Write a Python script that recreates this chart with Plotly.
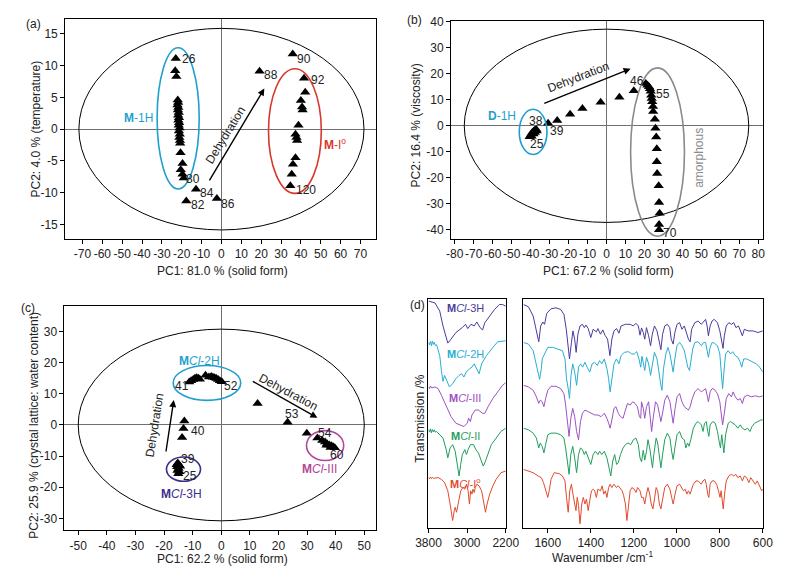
import plotly.graph_objects as go

FONT = "Liberation Sans, Arial, sans-serif"
CYAN = "#1f9fce"; RED = "#d8382c"; GRAY = "#8a8a8a"; NAVY = "#3b2f8c"; MAGENTA = "#b3479a"
C3H = "#4b3b9b"; C2H = "#27aed0"; CIII = "#9b52c3"; CII = "#1f9e5b"; CI = "#e04a2e"

# ---------------- panel (a) ----------------
a_x = [-23.0, -23.3, -22.7, -22.0, -21.8, -22.1, -21.7, -21.9, -21.5, -21.8, -21.4, -21.7, -21.3, -21.5, -21.1,
       -21.4, -21.0, -21.2, -20.9, -20.8, -20.6, -19.6, -20.5, -19.6, -19.0, -12.8, -17.7, -2.3, 19.2,
       35.9, 41.6, 42.2, 40.0, 40.6, 40.9, 38.8, 37.3, 37.8, 38.1, 37.3, 36.0, 35.4, 34.7]
a_y = [11.1, 9.2, 8.3, 4.6, 4.2, 3.8, 3.4, 3.0, 2.6, 2.2, 1.8, 1.4, 1.0, 0.6, 0.2,
       -0.3, -0.8, -1.3, -1.8, -2.2, -3.7, -5.4, -6.4, -7.1, -7.7, -9.45, -11.3, -10.9, 9.1,
       11.8, 8.0, 5.8, 4.5, 3.5, 3.0, 0.6, -0.8, -1.3, -1.8, -4.5, -5.5, -7.1, -8.9]
a_labels = [("26", -16.1, 11.06), ("80", -14.1, -7.8), ("84", -7.1, -10.1), ("82", -11.7, -11.9),
            ("86", 3.4, -11.7), ("88", 25.2, 8.5), ("90", 41.6, 11.06), ("92", 48.4, 7.8), ("120", 42.7, -9.55)]
a_ellipses = [(0, 0, 71.8, 15.85, "black", 1), (-21.8, 1.7, 10.6, 11.1, CYAN, 1.6), (37.0, -0.3, 13.3, 9.8, RED, 1.6)]
a_xticks = list(range(-70, 71, 10))
a_yticks = list(range(-15, 16, 5))

# ---------------- panel (b) ----------------
b_x = [-40.5, -40.0, -39.5, -39.0, -38.5, -38.0, -37.5, -37.0, -38.5, -39.5, -37.8, -36.8,
       -30.8, -26.0, -19.2, -12.7, -3.1, 6.8, 14.4,
       20.7, 21.6, 22.4, 22.9, 23.3, 23.6, 23.8, 24.1, 24.5, 24.6, 25.5, 25.8, 26.2, 26.5, 26.5, 26.7,
       27.5, 27.7, 28.0, 27.7, 27.7]
b_y = [-4.2, -3.6, -3.0, -2.5, -2.2, -1.8, -1.6, -1.4, -3.2, -4.0, -2.6, -2.0,
       1.0, 2.0, 4.4, 6.7, 9.1, 11.0, 13.5,
       16.3, 15.6, 15.0, 14.3, 13.3, 11.8, 10.5, 9.3, 7.4, 5.5, 2.5, -0.9, -4.3, -8.8, -13.8, -18.4,
       -23.1, -29.5, -33.7, -38.0, -40.0]
b_labels = [("46", 16.1, 17.1), ("55", 29.6, 12.4), ("70", 33.5, -41.3), ("38", -37.0, 1.9),
            ("25", -36.5, -7.0), ("39", -26.0, -1.9)]
b_ellipses = [(0, 0, 75.0, 37.2, "black", 1), (-38.7, -2.35, 7.3, 8.7, CYAN, 1.6), (26.9, -10.1, 14.2, 32.4, GRAY, 1.6)]
b_xticks = list(range(-80, 81, 10))
b_yticks = list(range(-40, 41, 10))

# ---------------- panel (c) ----------------
c_x = [-15.2, -14.8, -15.4, -14.9, -15.3, -14.6, -15.0, -14.4, -15.6,
       -12.9, -13.2, -13.7,
       -11.2, -10.5, -9.8, -9.2, -8.6, -8.0, -7.5, -5.5, -4.3, -3.5, -2.9, -2.3, -1.7, -1.1, -0.5, 0.2,
       12.7, 23.2, 29.9,
       33.6, 35.3, 36.3, 37.0, 37.8, 38.5, 39.1, 39.7, 36.8, 38.2]
c_y = [-12.2, -12.8, -13.4, -14.0, -14.6, -15.0, -15.7, -13.3, -12.8,
       1.3, -1.1, -4.0,
       13.8, 14.2, 14.6, 15.0, 15.2, 15.0, 14.7, 16.0, 15.4, 15.6, 15.3, 15.2, 14.9, 14.6, 14.2, 13.9,
       6.9, 0.85, -2.65,
       -4.2, -5.0, -5.5, -6.0, -6.4, -6.7, -7.0, -7.3, -6.5, -7.2]
c_labels = [("39", -11.5, -10.8), ("25", -10.8, -16.4), ("40", -8.1, -1.9), ("41", -13.8, 12.4),
            ("52", 3.4, 12.4), ("53", 24.9, 3.4), ("54", 36.2, -2.7), ("60", 40.6, -9.5)]
c_ellipses = [(0, 0, 50.0, 30.8, "black", 1), (-5.0, 13.5, 11.8, 5.6, CYAN, 1.6),
              (-13.2, -14.2, 5.95, 3.9, NAVY, 1.6), (36.3, -6.6, 6.5, 4.8, MAGENTA, 1.6)]
c_xticks = list(range(-50, 51, 10))
c_yticks = list(range(-30, 31, 10))

# ---------------- panel (d) spectra: (wavenumber, transmission a.u.) ----------------
oh_3H = [(3800, 687), (3787, 687), (3667, 682), (3567, 657), (3500, 612), (3433, 572), (3400, 560), (3333, 572),
         (3233, 592), (3100, 607), (3033, 617), (2987, 604), (2920, 617), (2853, 612), (2800, 624), (2733, 607),
         (2680, 600), (2633, 622), (2533, 642), (2433, 662), (2333, 677), (2267, 677), (2200, 672)]
fp_3H = [(1713, 677), (1690, 670), (1668, 642), (1653, 602), (1642, 564), (1633, 612), (1623, 624), (1615, 617),
         (1605, 650), (1585, 664), (1562, 667), (1540, 662), (1525, 647), (1514, 602), (1507, 552), (1499, 512),
         (1490, 562), (1483, 597), (1475, 572), (1468, 532), (1460, 587), (1450, 612), (1439, 617), (1430, 607),
         (1423, 615), (1412, 604), (1400, 577), (1389, 602), (1374, 594), (1367, 604), (1355, 587), (1344, 600),
         (1334, 584), (1322, 572), (1311, 522), (1302, 572), (1292, 597), (1280, 604), (1269, 590), (1259, 612),
         (1239, 617), (1217, 617), (1202, 612), (1190, 620), (1179, 612), (1171, 584), (1164, 606), (1156, 592),
         (1149, 572), (1141, 607), (1131, 582), (1122, 552), (1114, 587), (1104, 612), (1092, 597), (1081, 562),
         (1074, 540), (1066, 587), (1056, 612), (1044, 617), (1033, 607), (1026, 572), (1017, 557), (1009, 592),
         (999, 617), (987, 622), (976, 602), (965, 612), (956, 590), (946, 572), (938, 564), (931, 602),
         (916, 622), (901, 627), (886, 617), (875, 627), (866, 632), (859, 612), (853, 582), (845, 612),
         (836, 627), (826, 632), (811, 622), (800, 597), (791, 567), (785, 544), (779, 582), (770, 612),
         (758, 622), (746, 617), (735, 622), (725, 607), (713, 612), (701, 592), (695, 582), (686, 602),
         (668, 597), (645, 597), (623, 592), (600, 597)]
oh_2H = [(3800, 562), (3780, 555), (3760, 565), (3740, 552), (3720, 566), (3700, 556), (3680, 563), (3660, 553),
         (3633, 555), (3567, 522), (3533, 477), (3500, 444), (3467, 462), (3420, 444), (3367, 427), (3300, 437),
         (3233, 452), (3167, 462), (3113, 467), (3067, 457), (3020, 472), (2953, 482), (2900, 487), (2853, 497),
         (2800, 482), (2753, 467), (2700, 497), (2600, 522), (2467, 547), (2367, 564), (2200, 567)]
fp_2H = [(1713, 562), (1690, 557), (1668, 537), (1653, 497), (1645, 472), (1638, 450), (1630, 482), (1626, 512),
         (1615, 527), (1600, 547), (1577, 547), (1555, 542), (1532, 537), (1520, 512), (1513, 452), (1505, 422),
         (1499, 392), (1492, 462), (1484, 497), (1475, 472), (1466, 432), (1457, 487), (1447, 497), (1438, 487),
         (1427, 502), (1417, 487), (1405, 472), (1394, 497), (1382, 502), (1370, 492), (1359, 507), (1349, 497),
         (1337, 512), (1325, 482), (1317, 452), (1310, 412), (1301, 462), (1292, 497), (1281, 512), (1269, 497),
         (1259, 522), (1244, 532), (1224, 534), (1209, 527), (1198, 527), (1186, 534), (1176, 512), (1168, 487),
         (1162, 520), (1156, 497), (1149, 477), (1141, 517), (1131, 497), (1122, 462), (1114, 497), (1104, 532),
         (1092, 512), (1081, 457), (1074, 432), (1069, 417), (1062, 482), (1051, 527), (1041, 547), (1032, 527),
         (1024, 492), (1017, 472), (1009, 512), (999, 552), (987, 562), (976, 552), (965, 537), (956, 507),
         (949, 487), (941, 477), (935, 502), (926, 542), (916, 562), (901, 564), (886, 552), (875, 562),
         (866, 562), (859, 542), (853, 517), (845, 547), (836, 562), (826, 560), (811, 552), (800, 527),
         (793, 472), (787, 422), (781, 472), (773, 527), (761, 537), (750, 527), (740, 534), (728, 522),
         (716, 517), (705, 502), (698, 487), (689, 512), (675, 512), (660, 507), (645, 502), (630, 497),
         (615, 487), (600, 472)]
oh_III = [(3800, 427), (3780, 422), (3760, 430), (3740, 424), (3733, 424), (3667, 427), (3600, 422), (3533, 402),
          (3433, 367), (3333, 337), (3233, 317), (3133, 312), (3067, 307), (3000, 317), (2967, 332), (2933, 322),
          (2900, 342), (2833, 357), (2767, 357), (2680, 347), (2633, 347), (2567, 367), (2467, 392), (2367, 412),
          (2267, 432), (2200, 440)]
fp_III = [(1713, 432), (1690, 427), (1668, 417), (1653, 397), (1642, 377), (1635, 387), (1626, 382), (1618, 367),
          (1610, 392), (1600, 417), (1585, 429), (1562, 429), (1540, 422), (1525, 407), (1517, 372), (1508, 322),
          (1501, 277), (1493, 332), (1484, 362), (1475, 337), (1466, 292), (1457, 267), (1448, 322), (1439, 347),
          (1427, 357), (1412, 352), (1397, 347), (1382, 342), (1367, 342), (1352, 337), (1337, 347), (1325, 332),
          (1317, 317), (1310, 302), (1302, 327), (1292, 362), (1283, 367), (1272, 347), (1262, 337), (1250, 332),
          (1239, 357), (1229, 377), (1217, 372), (1205, 382), (1194, 377), (1183, 367), (1174, 337), (1168, 332),
          (1164, 382), (1156, 362), (1149, 332), (1141, 367), (1131, 382), (1123, 327), (1117, 292), (1110, 332),
          (1099, 382), (1089, 372), (1081, 342), (1074, 322), (1065, 352), (1056, 387), (1044, 402), (1032, 382),
          (1024, 347), (1017, 317), (1008, 362), (999, 397), (987, 407), (976, 382), (965, 367), (956, 362),
          (946, 357), (938, 367), (928, 392), (916, 412), (901, 422), (886, 412), (875, 417), (866, 422),
          (859, 402), (853, 382), (845, 412), (836, 422), (826, 420), (811, 407), (800, 382), (793, 342),
          (787, 312), (779, 347), (770, 392), (758, 407), (746, 397), (738, 412), (728, 397), (716, 387),
          (705, 392), (695, 377), (686, 397), (671, 402), (653, 397), (635, 400), (615, 397), (600, 400)]
oh_II = [(3800, 297), (3780, 290), (3760, 300), (3740, 288), (3720, 298), (3700, 291), (3680, 297), (3660, 290),
         (3633, 292), (3500, 272), (3433, 237), (3400, 212), (3353, 242), (3300, 252), (3247, 232), (3200, 182),
         (3167, 157), (3133, 192), (3100, 222), (3047, 237), (3013, 222), (2980, 237), (2933, 252), (2867, 252),
         (2820, 237), (2767, 227), (2713, 207), (2667, 187), (2633, 197), (2567, 227), (2500, 252), (2400, 272),
         (2300, 292), (2200, 302)]
fp_II = [(1713, 302), (1690, 297), (1668, 287), (1653, 272), (1642, 242), (1635, 257), (1626, 247), (1618, 227),
         (1610, 252), (1600, 282), (1585, 287), (1562, 287), (1540, 282), (1525, 272), (1517, 242), (1508, 202),
         (1501, 162), (1493, 222), (1484, 247), (1475, 212), (1466, 167), (1457, 222), (1448, 242), (1439, 237),
         (1430, 222), (1423, 232), (1412, 212), (1400, 192), (1389, 222), (1379, 232), (1367, 222), (1359, 232),
         (1349, 222), (1337, 232), (1325, 212), (1316, 187), (1307, 157), (1298, 202), (1289, 222), (1280, 192),
         (1272, 197), (1262, 222), (1250, 242), (1239, 252), (1227, 257), (1214, 252), (1202, 267), (1190, 272),
         (1179, 252), (1171, 212), (1164, 200), (1156, 235), (1149, 205), (1141, 232), (1134, 267), (1126, 242),
         (1119, 202), (1113, 182), (1107, 222), (1096, 272), (1089, 257), (1081, 212), (1074, 182), (1066, 222),
         (1056, 267), (1044, 287), (1032, 272), (1024, 232), (1017, 207), (1009, 242), (999, 282), (987, 292),
         (976, 272), (965, 267), (958, 242), (950, 257), (943, 247), (935, 267), (923, 302), (911, 317),
         (901, 322), (886, 312), (878, 292), (871, 317), (863, 322), (856, 292), (851, 277), (845, 312),
         (833, 322), (821, 317), (811, 292), (803, 262), (797, 242), (791, 282), (785, 257), (781, 227),
         (773, 282), (761, 317), (750, 322), (740, 317), (728, 312), (716, 302), (705, 312), (695, 302),
         (683, 297), (671, 302), (660, 292), (650, 307), (638, 317), (623, 322), (608, 327), (600, 327)]
oh_I = [(3800, 152), (3780, 148), (3760, 154), (3740, 149), (3720, 153), (3700, 150), (3600, 152), (3533, 147),
        (3467, 137), (3400, 112), (3353, 72), (3320, 42), (3300, 22), (3267, 52), (3247, 62), (3220, 47),
        (3180, 82), (3133, 112), (3087, 122), (3047, 117), (3013, 132), (2980, 112), (2953, 72), (2927, 112),
        (2900, 102), (2880, 117), (2853, 107), (2833, 122), (2800, 132), (2753, 127), (2700, 112), (2653, 72),
        (2620, 47), (2587, 72), (2533, 102), (2467, 127), (2400, 147), (2300, 167), (2200, 172)]
fp_I = [(1713, 177), (1690, 172), (1668, 167), (1645, 157), (1630, 152), (1620, 137), (1610, 112), (1600, 92),
        (1592, 117), (1585, 147), (1570, 167), (1547, 164), (1532, 157), (1520, 142), (1513, 92), (1505, 47),
        (1498, 112), (1490, 132), (1483, 102), (1475, 72), (1469, 52), (1463, 92), (1457, 67), (1450, 12),
        (1442, 72), (1435, 92), (1427, 72), (1420, 87), (1412, 52), (1405, 82), (1397, 112), (1389, 117),
        (1382, 112), (1374, 92), (1367, 117), (1355, 112), (1347, 127), (1340, 102), (1332, 112), (1325, 92),
        (1317, 122), (1310, 132), (1302, 122), (1292, 132), (1281, 122), (1272, 127), (1262, 117), (1254, 112),
        (1247, 97), (1239, 72), (1232, 22), (1224, 72), (1217, 112), (1209, 122), (1198, 117), (1190, 107),
        (1182, 122), (1171, 112), (1164, 92), (1156, 92), (1149, 72), (1141, 102), (1134, 122), (1126, 102),
        (1119, 72), (1111, 57), (1104, 92), (1096, 122), (1089, 112), (1081, 72), (1074, 57), (1066, 92),
        (1056, 122), (1044, 132), (1032, 117), (1024, 92), (1017, 72), (1008, 102), (999, 127), (987, 132),
        (976, 122), (969, 112), (961, 117), (953, 102), (946, 112), (938, 102), (931, 117), (923, 132),
        (911, 142), (901, 142), (886, 132), (878, 142), (869, 147), (863, 132), (856, 102), (851, 92),
        (845, 132), (836, 142), (826, 142), (815, 132), (806, 112), (799, 92), (794, 112), (788, 72),
        (784, 57), (778, 102), (770, 142), (758, 157), (746, 162), (735, 157), (725, 162), (716, 152),
        (705, 157), (695, 142), (686, 157), (675, 152), (665, 137), (656, 152), (645, 142), (635, 132),
        (626, 142), (615, 127), (605, 112), (600, 117)]
spectra = [("<b>M</b><i>Cl</i>-3H", C3H, oh_3H, fp_3H, 667),
           ("<b>M</b><i>Cl</i>-2H", C2H, oh_2H, fp_2H, 527),
           ("<b>M</b><i>Cl</i>-III", CIII, oh_III, fp_III, 392),
           ("<b>M</b><i>Cl</i>-II", CII, oh_II, fp_II, 277),
           ("<b>M</b><i>Cl</i>-I<sup>o</sup>", CI, oh_I, fp_I, 137)]
d_left_ticks = [3800, 3000, 2200]
d_right_ticks = [1600, 1400, 1200, 1000, 800, 600]

# ---------------- figure ----------------
fig = go.Figure()
shapes = []
annotations = []

def txt(text, x, y, xref, yref, size=12, color="#222", angle=0, xanchor="center"):
    annotations.append(dict(text=text, x=x, y=y, xref=xref, yref=yref, showarrow=False,
                            font=dict(family=FONT, size=size, color=color), textangle=angle,
                            xanchor=xanchor, yanchor="middle"))

def ellipses(lst, xref, yref):
    for cx, cy, a, b, col, w in lst:
        shapes.append(dict(type="circle", xref=xref, yref=yref, x0=cx - a, x1=cx + a, y0=cy - b, y1=cy + b,
                           line=dict(color=col, width=w)))

def arrow(x0, y0, x1, y1, xref, yref):
    annotations.append(dict(x=x1, y=y1, ax=x0, ay=y0, xref=xref, yref=yref, axref=xref, ayref=yref,
                            showarrow=True, arrowhead=2, arrowsize=1, arrowwidth=1.4, arrowcolor="black", text=""))

for xs, ys, ax in [(a_x, a_y, "1"), (b_x, b_y, "2"), (c_x, c_y, "3")]:
    fig.add_trace(go.Scatter(x=xs, y=ys, mode="markers", xaxis="x" + ax, yaxis="y" + ax,
                             marker=dict(symbol="triangle-up", size=9, color="black"), showlegend=False,
                             cliponaxis=False))

for name, col, oh, fp, ly in spectra:
    fig.add_trace(go.Scatter(x=[p[0] for p in oh], y=[p[1] for p in oh], mode="lines", xaxis="x4", yaxis="y4",
                             line=dict(color=col, width=1), showlegend=False))
    fig.add_trace(go.Scatter(x=[p[0] for p in fp], y=[p[1] for p in fp], mode="lines", xaxis="x5", yaxis="y5",
                             line=dict(color=col, width=1), showlegend=False))
    txt(name, 3040, ly, "x4", "y4", size=11, color=col)

ellipses(a_ellipses, "x", "y")
ellipses(b_ellipses, "x2", "y2")
ellipses(c_ellipses, "x3", "y3")

for t, x, y in a_labels:
    txt(t, x, y, "x", "y")
for t, x, y in b_labels:
    txt(t, x, y, "x2", "y2")
for t, x, y in c_labels:
    txt(t, x, y, "x3", "y3")

arrow(-6.5, -8.3, 21.6, 6.4, "x", "y")
txt("Dehydration", 2.0, -0.9, "x", "y", angle=-58.5)
arrow(-33.6, 8.4, 12.7, 22.0, "x2", "y2")
txt("Dehydration", -14.8, 18.7, "x2", "y2", angle=-21)
arrow(-19.4, -9.0, -16.6, 8.0, "x3", "y3")
txt("Dehydration", -23.3, 0.0, "x3", "y3", angle=-81)
arrow(10.5, 14.3, 33.6, 2.3, "x3", "y3")
txt("Dehydration", 23.4, 10.6, "x3", "y3", angle=28)

txt("<b>M</b>-1H", -41.7, 1.7, "x", "y", color=CYAN)
txt("<b>M</b>-I<sup>o</sup>", 57.3, -2.3, "x", "y", color=RED)
txt("<b>D</b>-1H", -54.9, 3.6, "x2", "y2", color=CYAN)
txt("amorphous", 48.8, -12.3, "x2", "y2", color=GRAY, angle=-90)
txt("<b>M</b><i>Cl</i>-2H", -7.6, 20.7, "x3", "y3", color=CYAN)
txt("<b>M</b><i>Cl</i>-3H", -13.8, -22.3, "x3", "y3", color=NAVY)
txt("<b>M</b><i>Cl</i>-III", 34.2, -14.0, "x3", "y3", color=MAGENTA)

# axis titles & panel letters (paper coords)
txt("PC1: 81.0 % (solid form)", 0.2709, 0.5320, "paper", "paper")
txt("PC2: 4.0 % (temperature)", 0.0291, 0.7831, "paper", "paper", angle=-90)
txt("PC1: 67.2 % (solid form)", 0.7709, 0.5320, "paper", "paper")
txt("PC2: 16.4 % (viscosity)", 0.5209, 0.7888, "paper", "paper", angle=-90)
txt("PC1: 62.2 % (solid form)", 0.2709, 0.0255, "paper", "paper")
txt("PC2: 25.9 % (crystal lattice: water content)", 0.0271, 0.2613, "paper", "paper", angle=-90)
txt("Wavenumber /cm<sup>-1</sup>", 0.7625, 0.0290, "paper", "paper")
txt("Transmission /%", 0.5271, 0.2728, "paper", "paper", angle=-90)
txt("(a)", 0.027, 0.968, "paper", "paper")
txt("(b)", 0.520, 0.9756, "paper", "paper")
txt("(c)", 0.019, 0.4677, "paper", "paper")
txt("(d)", 0.5229, 0.4735, "paper", "paper")

def pca_axis(domain, rng, ticks, anchor):
    return dict(domain=domain, range=rng, tickvals=ticks, ticktext=[str(t) for t in ticks], anchor=anchor,
                showline=True, mirror=True, linecolor="black", linewidth=1, ticks="outside", ticklen=4,
                tickcolor="black", showgrid=False, zeroline=True, zerolinecolor="#707070", zerolinewidth=1,
                tickangle=0, tickfont=dict(family=FONT, size=12, color="#222"))

def spec_x(domain, rng, ticks, anchor):
    return dict(domain=domain, range=rng, tickvals=ticks, ticktext=[str(t) for t in ticks], anchor=anchor,
                showline=True, mirror=True, linecolor="black", linewidth=1, ticks="outside", ticklen=4,
                tickcolor="black", showgrid=False, zeroline=False, tickangle=0,
                tickfont=dict(family=FONT, size=12, color="#222"))

def spec_y(domain, anchor):
    return dict(domain=domain, range=[0, 694], anchor=anchor, showline=True, mirror=True, linecolor="black",
                linewidth=1, ticks="", showticklabels=False, showgrid=False, zeroline=False)

fig.update_layout(
    width=800, height=573, margin=dict(l=0, r=0, t=0, b=0),
    paper_bgcolor="white", plot_bgcolor="white", showlegend=False,
    font=dict(family=FONT, size=12, color="#222"),
    xaxis=pca_axis([0.0675, 0.47], [-78.7, 78.0], a_xticks, "y"),
    yaxis=pca_axis([0.5899, 0.9768], [-17.2, 17.3], a_yticks, "x"),
    xaxis2=pca_axis([0.5666, 0.97], [-82.0, 82.4], b_xticks, "y2"),
    yaxis2=pca_axis([0.5899, 0.9738], [-43.4, 40.4], b_yticks, "x2"),
    xaxis3=pca_axis([0.0666, 0.47], [-54.8, 54.2], c_xticks, "y3"),
    yaxis3=pca_axis([0.0750, 0.4707], [-33.9, 38.2], c_yticks, "x3"),
    xaxis4=spec_x([0.5375, 0.6375], [3800, 2200], d_left_ticks, "y4"),
    yaxis4=spec_y([0.0798, 0.4834], "x4"),
    xaxis5=spec_x([0.6604, 0.97], [1713, 600], d_right_ticks, "y5"),
    yaxis5=spec_y([0.0798, 0.4834], "x5"),
    shapes=shapes, annotations=annotations,
)

fig.write_html("out.html", config={"displayModeBar": False},
               post_script="document.body.style.margin='0';")
